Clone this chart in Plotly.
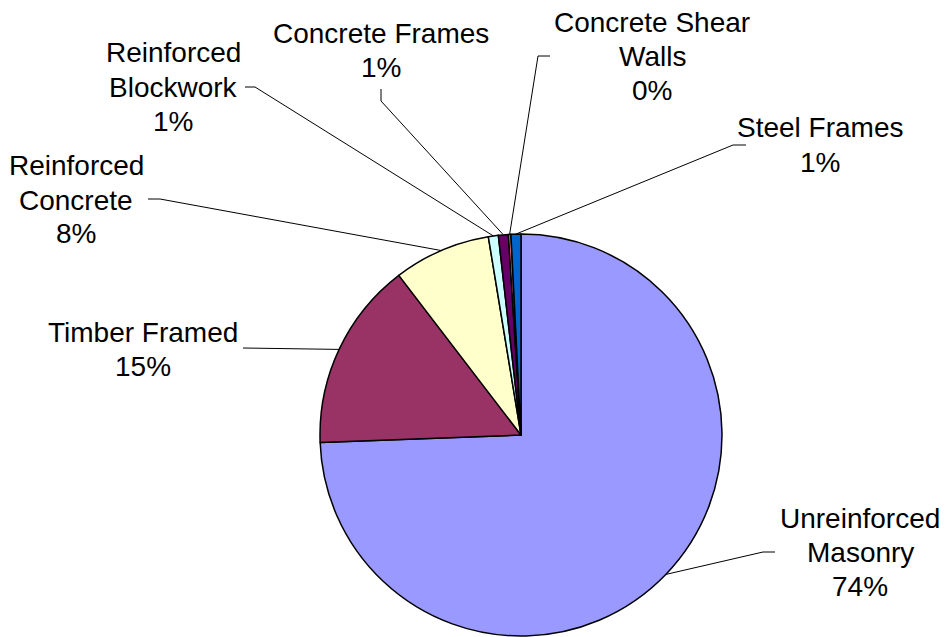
import math
import plotly.graph_objects as go

# building types and their share of the stock (%)
labels = ["Unreinforced Masonry", "Timber Framed", "Reinforced Concrete",
          "Reinforced Blockwork", "Concrete Frames", "Concrete Shear Walls",
          "Steel Frames"]
values = [74.4, 15.2, 7.8, 0.8, 0.8, 0.2, 0.8]
label_lines = [["Unreinforced", "Masonry"], ["Timber Framed"], ["Reinforced", "Concrete"],
               ["Reinforced", "Blockwork"], ["Concrete Frames"], ["Concrete Shear", "Walls"],
               ["Steel Frames"]]
colors = ["#9999FF", "#993366", "#FFFFCC", "#CCFFFF", "#660066", "#FF8080", "#0066CC"]

W, H = 946, 637
CX, CY, R = 521, 435, 201  # pie centre / radius in px
LINE_H = 34


def px(x, y):
    return x / W, 1 - y / H


# label centre + leader elbow (px) for each slice
label_pos = [(860, 552), (143, 349), (76, 200), (173, 87), (381, 50), (652, 56), (820, 145)]
elbows = [
    [(775, 552), (763, 552)],
    [(243, 348)],
    [(148, 199), (160, 199)],
    [(245, 87), (255, 87)],
    [(381, 89), (381, 101)],
    [(550, 56), (538, 56)],
    [(746, 145), (733, 145)],
]

fig = go.Figure(go.Pie(
    labels=labels,
    values=values,
    sort=False,
    direction="clockwise",
    rotation=0,
    textinfo="none",
    hoverinfo="label+percent",
    marker=dict(colors=colors, line=dict(color="black", width=1.5)),
    domain=dict(x=[(CX - R) / W, (CX + R) / W], y=[1 - (CY + R) / H, 1 - (CY - R) / H]),
    showlegend=False,
))

total = sum(values)
cum = 0
for i, v in enumerate(values):
    mid = (cum + v / 2) / total * 2 * math.pi
    cum += v
    ex, ey = CX + R * math.sin(mid), CY - R * math.cos(mid)
    pts = elbows[i] + [(ex, ey)]
    path = "M " + " L ".join(f"{px(x, y)[0]},{px(x, y)[1]}" for x, y in pts)
    fig.add_shape(type="path", path=path, xref="paper", yref="paper",
                  line=dict(color="black", width=1))

    lines = label_lines[i] + [f"{round(v / total * 100)}%"]
    lx, ly = label_pos[i]
    for k, t in enumerate(lines):
        yy = ly + (k - (len(lines) - 1) / 2) * LINE_H
        ax, ay = px(lx, yy)
        fig.add_annotation(x=ax, y=ay, xref="paper", yref="paper",
                           text=t, showarrow=False,
                           xanchor="center", yanchor="middle",
                           font=dict(size=28, color="black"))

fig.update_layout(
    width=W, height=H,
    margin=dict(l=0, r=0, t=0, b=0),
    paper_bgcolor="white",
    plot_bgcolor="white",
    font=dict(family="Liberation Sans, Arial, sans-serif"),
)

fig.write_html("out.html", config={"displayModeBar": False},
               post_script="document.body.style.margin='0';")
